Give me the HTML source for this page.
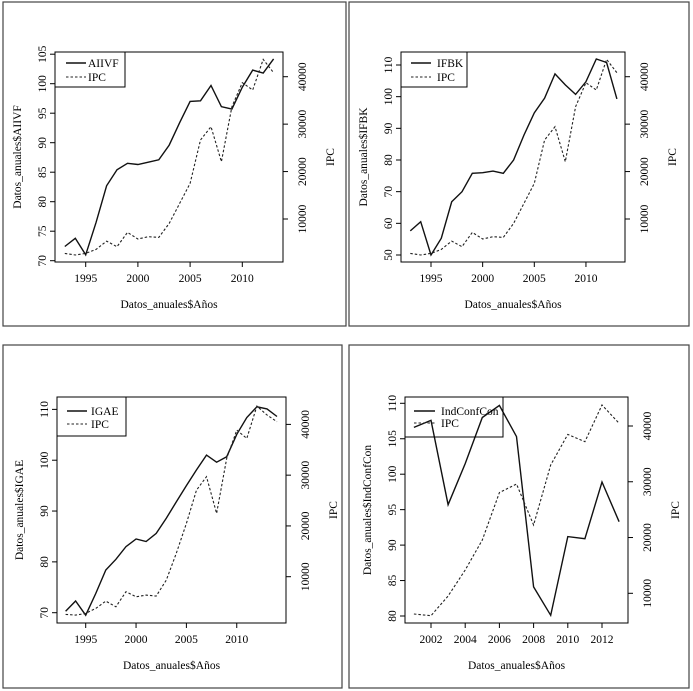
<!DOCTYPE html>
<html><head><meta charset="utf-8">
<style>
html,body{margin:0;padding:0;background:#fff;}
svg{display:block;font-family:"Liberation Serif",serif;}
</style></head>
<body>
<svg id="chart" width="693" height="691" viewBox="0 0 693 691" xmlns="http://www.w3.org/2000/svg"></svg>
<script>
// Panel 1: AIIVF
const years1 = [1993,1994,1995,1996,1997,1998,1999,2000,2001,2002,2003,2004,2005,2006,2007,2008,2009,2010,2011,2012,2013];
const aiivf = [72.4,73.8,71,76.5,82.7,85.4,86.5,86.3,86.7,87.1,89.6,93.4,97,97.1,99.7,96.1,95.7,99.4,102.3,101.8,104.2];
const ipc1 = [2755,2400,2755,3600,5350,4160,7180,5780,6270,6130,9080,13300,17500,26650,29460,22080,33670,38730,37190,43650,40840];
// Panel 2: IFBK
const years2 = [1993,1994,1995,1996,1997,1998,1999,2000,2001,2002,2003,2004,2005,2006,2007,2008,2009,2010,2011,2012,2013];
const ifbk = [57.6,60.5,50,55.3,66.8,70,75.8,76,76.5,75.8,80,87.9,94.9,99.5,107.2,103.7,100.7,104.7,111.9,110.8,99.3];
const ipc2 = [2755,2400,2755,3600,5350,4160,7180,5780,6270,6130,9080,13300,17500,26650,29460,22080,33670,38730,37190,43650,40840];
// Panel 3: IGAE
const years3 = [1993,1994,1995,1996,1997,1998,1999,2000,2001,2002,2003,2004,2005,2006,2007,2008,2009,2010,2011,2012,2013,2014];
const igae = [70.3,72.3,69.5,73.8,78.4,80.5,83,84.5,84,85.6,88.6,91.8,95,98.1,101,99.6,100.7,105.1,108.4,110.5,110.1,108.6];
const ipc3 = [2574,2440,2770,3760,5200,4080,7040,6050,6380,6180,9340,14600,20500,27060,29690,22470,33300,38880,37240,43600,41840,40530];
// Panel 4: IndConfCon
const years4 = [2001,2002,2003,2004,2005,2006,2007,2008,2009,2010,2011,2012,2013];
const indconf = [106.6,107.6,95.7,101.5,108,109.7,105.3,84.1,80.1,91.2,90.9,98.9,93.3];
const ipc4 = [6290,5990,9520,14180,19560,28050,29600,22250,33000,38500,37190,43770,40480];
// Tick labels
const xt1 = [1995,2000,2005,2010];
const xt4 = [2002,2004,2006,2008,2010,2012];
const lt1 = [70,75,80,85,90,95,100,105];
const lt2 = [50,60,70,80,90,100,110];
const lt3 = [70,80,90,100,110];
const lt4 = [80,85,90,95,100,105,110];
const rt = [10000,20000,30000,40000];

const NS = "http://www.w3.org/2000/svg";
const svg = document.getElementById('chart');
function mk(tag, attrs, parent, txt){
  const e = document.createElementNS(NS, tag);
  for (const k in attrs) e.setAttribute(k, attrs[k]);
  if (txt !== undefined) e.textContent = txt;
  (parent||svg).appendChild(e);
  return e;
}

function panel(cfg){
  const g = mk('g', {transform:`translate(${cfg.ox},${cfg.oy})`});
  
  
  const f = mk('rect', {x:cfg.fr[0], y:cfg.fr[1], width:cfg.fr[2], height:cfg.fr[3], fill:'none', stroke:'#444', 'stroke-width':1.2}, g);
  
  
  const b = cfg.box;
  const xs = v => cfg.xa[1] + (v - cfg.xa[0]) * cfg.xa[3];
  const ys = v => cfg.ya[1] + (v - cfg.ya[0]) * cfg.ya[3];
  const rs = v => cfg.ra[1] + (v - cfg.ra[0]) * cfg.ra[3];
  const box = mk('rect', {x:b[0], y:b[1], width:b[2]-b[0], height:b[3]-b[1], fill:'none', stroke:'#000', 'stroke-width':1}, g);
  
  
  const xa = mk('g', {}, g);
  
  
  const xtk = cfg.xticks;
  mk('line', {x1:xs(xtk[0]), x2:xs(xtk[xtk.length-1]), y1:b[3], y2:b[3], stroke:'#000'}, xa);
  xtk.forEach(t => {
    mk('line', {x1:xs(t), x2:xs(t), y1:b[3], y2:b[3]+5, stroke:'#000'}, xa);
    const tl = mk('text', {x:xs(t), y:b[3]+20, 'text-anchor':'middle', 'font-size':11.5}, xa, String(t));
    
    
  });
  const xtt = mk('text', {x:(b[0]+b[2])/2, y:b[3]+46, 'text-anchor':'middle', 'font-size':11.5}, g, 'Datos_anuales$Años');
  
  
  const ya = mk('g', {}, g);
  
  
  const lt = cfg.lticks;
  mk('line', {x1:b[0], x2:b[0], y1:ys(lt[0]), y2:ys(lt[lt.length-1]), stroke:'#000'}, ya);
  lt.forEach(t => {
    mk('line', {x1:b[0]-5, x2:b[0], y1:ys(t), y2:ys(t), stroke:'#000'}, ya);
    const tx = b[0]-9, ty = ys(t);
    const tl = mk('text', {x:tx, y:ty, 'text-anchor':'middle', 'font-size':11.5, transform:`rotate(-90 ${tx} ${ty})`}, ya, String(t));
    
    
  });
  const lx = b[0]-34, ly = (b[1]+b[3])/2;
  const ytt = mk('text', {x:lx, y:ly, 'text-anchor':'middle', 'font-size':11.5, transform:`rotate(-90 ${lx} ${ly})`}, g, 'Datos_anuales$' + cfg.yname);
  
  
  const ra = mk('g', {}, g);
  
  
  mk('line', {x1:b[2], x2:b[2], y1:rs(rt[0]), y2:rs(rt[rt.length-1]), stroke:'#000'}, ra);
  rt.forEach(t => {
    mk('line', {x1:b[2], x2:b[2]+5, y1:rs(t), y2:rs(t), stroke:'#000'}, ra);
    const tx = b[2]+23, ty = rs(t);
    const tl = mk('text', {x:tx, y:ty, 'text-anchor':'middle', 'font-size':11.5, transform:`rotate(-90 ${tx} ${ty})`}, ra, String(t));
    
    
  });
  const rx = b[2]+51, ry = (b[1]+b[3])/2;
  const rtt = mk('text', {x:rx, y:ry, 'text-anchor':'middle', 'font-size':11.5, transform:`rotate(-90 ${rx} ${ry})`}, g, 'IPC');
  
  
  const p1 = cfg.years.map((y,i)=>`${xs(y).toFixed(1)},${ys(cfg.s1[i]).toFixed(1)}`).join(' ');
  const l1 = mk('polyline', {points:p1, fill:'none', stroke:'#111', 'stroke-width':1.4}, g);
  
  
  const p2 = cfg.years.map((y,i)=>`${xs(y).toFixed(1)},${rs(cfg.s2[i]).toFixed(1)}`).join(' ');
  const l2 = mk('polyline', {points:p2, fill:'none', stroke:'#222', 'stroke-width':1.1, 'stroke-dasharray':'2.5,2'}, g);
  
  
  const L = cfg.leg;
  const lg = mk('g', {}, g);
  
  
  mk('rect', {x:L[0], y:L[1], width:L[2]-L[0], height:L[3]-L[1], fill:'none', stroke:'#000'}, lg);
  mk('line', {x1:L[4], x2:L[5], y1:L[7], y2:L[7], stroke:'#111', 'stroke-width':1.4}, lg);
  mk('line', {x1:L[4], x2:L[5], y1:L[8], y2:L[8], stroke:'#222', 'stroke-width':1.1, 'stroke-dasharray':'2.5,2'}, lg);
  const e1 = mk('text', {x:L[6], y:L[7]+4, 'font-size':11.5}, lg, cfg.yname);
  
  
  const e2 = mk('text', {x:L[6], y:L[8]+4, 'font-size':11.5}, lg, 'IPC');
  
  
}

panel({name:'aiivf', ox:0, oy:0, fr:[3,2,343,324], box:[55,52,283,262],
  xa:[1995,85.7,0,10.44], ya:[70,260.7,0,-5.9], ra:[10000,219,0,-0.004743],
  xticks:xt1, lticks:lt1, yname:'AIIVF', years:years1, s1:aiivf, s2:ipc1,
  leg:[55,52,125,87,66,86,88,63,77]});
panel({name:'ifbk', ox:346, oy:0, fr:[3,2,340,324], box:[55,52,279,262],
  xa:[1995,85,0,10.33], ya:[50,255,0,-3.1667], ra:[10000,219,0,-0.004743],
  xticks:xt1, lticks:lt2, yname:'IFBK', years:years2, s1:ifbk, s2:ipc2,
  leg:[55,52,121,87,65,85,91,63,77]});
panel({name:'igae', ox:0, oy:340, fr:[3,5,339,343], box:[57,57,286,283],
  xa:[1995,85.7,0,10.07], ya:[70,272.7,0,-5.083], ra:[10000,236.7,0,-0.005077],
  xticks:xt1, lticks:lt3, yname:'IGAE', years:years3, s1:igae, s2:ipc3,
  leg:[57,57,126,96,67,87,91,71,84]});
panel({name:'indconfcon', ox:346, oy:340, fr:[3,5,340,343], box:[59,57,282,283],
  xa:[2002,85,0,17.1], ya:[80,276,0,-7.09], ra:[10000,253.3,0,-0.005577],
  xticks:xt4, lticks:lt4, yname:'IndConfCon', years:years4, s1:indconf, s2:ipc4,
  leg:[59,57,157,97,68,89,95,71,83]});
</script>
</body></html>
